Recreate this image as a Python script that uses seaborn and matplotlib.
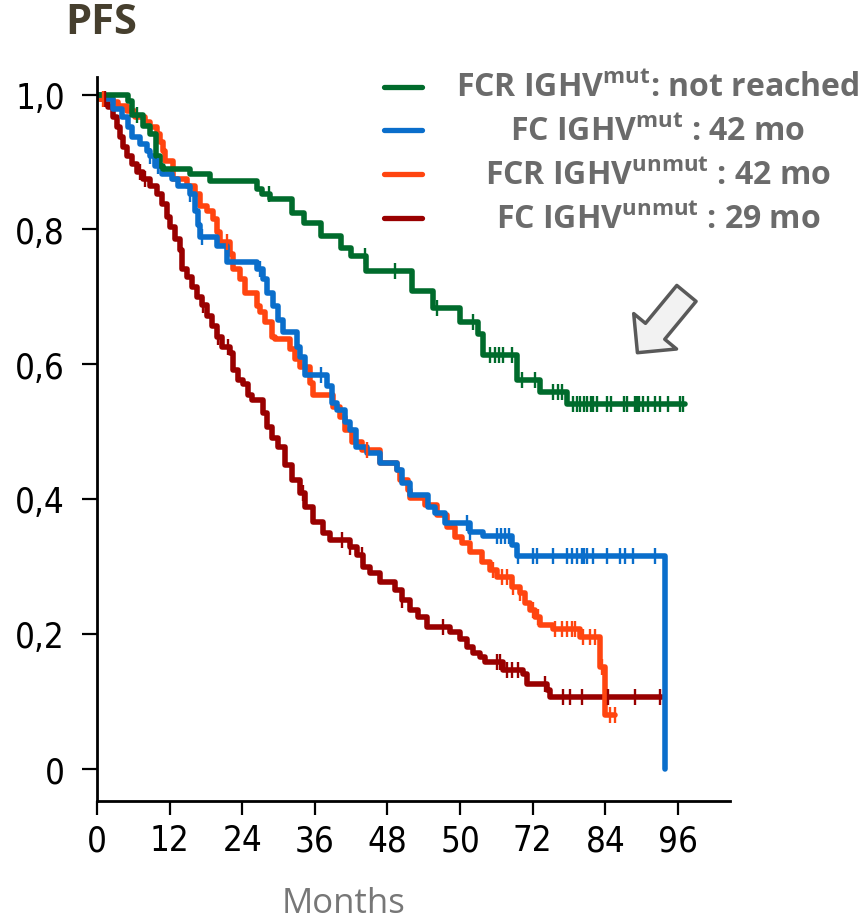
import numpy as np
import matplotlib
matplotlib.use("Agg")
import matplotlib.pyplot as plt
import seaborn as sns
from matplotlib.lines import Line2D
from matplotlib import font_manager

# Kaplan-Meier steps (months, survival after the drop)
t_fcr_mut = [0, 5.1, 5.8, 7.6, 8.8, 9.8, 10.4, 10.9, 15.4, 18.7, 26.4, 27.3, 28.6, 32.2, 34.2, 37.0,
             40.3, 42.0, 44.5, 52.1, 55.5, 60.0, 63.0, 63.8, 69.4, 73.2, 77.7, 97.2]
s_fcr_mut = [1.0, 0.990, 0.970, 0.953, 0.941, 0.909, 0.894, 0.889, 0.882, 0.871, 0.860, 0.852, 0.845, 0.825,
             0.810, 0.790, 0.773, 0.760, 0.738, 0.708, 0.683, 0.662, 0.645, 0.614, 0.577, 0.559, 0.541, 0.541]
c_fcr_mut = [6.6, 28.4, 44.3, 49.3, 56.2, 62.1, 65.0, 65.8, 66.4, 67.1, 68.6, 70.2, 72.4, 75.4, 76.2, 76.9,
             78.7, 79.3, 79.8, 80.5, 81.0, 81.7, 82.0, 82.6, 84.3, 85.0, 87.0, 87.6, 88.9, 89.3, 89.6, 90.2,
             91.1, 92.2, 93.1, 94.4, 96.4, 96.9]

t_fc_mut = [0, 1.3, 2.6, 4.1, 5.1, 5.8, 7.1, 8.3, 8.8, 9.6, 10.7, 12.4, 13.4, 15.4, 16.2, 16.7, 17.0, 19.8,
            21.5, 26.4, 27.4, 28.1, 29.1, 29.9, 30.7, 33.1, 33.6, 34.4, 38.0, 38.8, 39.7, 41.0, 41.8, 42.8,
            44.6, 46.8, 49.6, 50.4, 51.7, 54.7, 55.9, 57.5, 61.7, 63.8, 68.6, 69.4, 93.9]
s_fc_mut = [1.0, 0.993, 0.978, 0.967, 0.952, 0.937, 0.926, 0.916, 0.909, 0.894, 0.882, 0.874, 0.864, 0.852,
            0.827, 0.807, 0.788, 0.775, 0.751, 0.741, 0.726, 0.706, 0.686, 0.666, 0.647, 0.626, 0.611, 0.584,
            0.567, 0.543, 0.532, 0.514, 0.503, 0.477, 0.468, 0.454, 0.443, 0.424, 0.406, 0.388, 0.379, 0.364,
            0.351, 0.345, 0.332, 0.316, 0.0]
c_fc_mut = [8.8, 10.0, 15.4, 17.3, 27.0, 37.0, 61.2, 61.7, 66.1, 66.8, 67.4, 68.0, 69.6, 72.1, 72.7, 75.4,
            77.7, 78.5, 79.3, 80.2, 80.5, 81.0, 82.0, 84.3, 86.4, 87.3, 88.6, 92.2]

t_fcr_unmut = [0, 0.5, 2.6, 3.5, 5.0, 6.3, 7.9, 8.8, 9.9, 10.4, 10.9, 11.2, 12.6, 14.9, 16.2, 17.0, 18.2,
               19.2, 19.8, 20.3, 22.0, 22.5, 23.6, 24.5, 26.4, 26.9, 27.8, 28.9, 29.4, 31.9, 32.7, 33.6,
               35.2, 35.7, 39.0, 40.2, 41.0, 42.1, 43.8, 46.8, 49.6, 50.1, 51.4, 51.7, 54.2, 56.2, 57.9,
               59.2, 60.3, 61.7, 63.6, 65.0, 66.1, 68.6, 69.9, 70.7, 71.6, 72.4, 73.2, 75.4, 79.8, 83.1,
               84.0, 85.6]
s_fcr_unmut = [1.0, 0.993, 0.989, 0.983, 0.975, 0.967, 0.959, 0.952, 0.941, 0.929, 0.916, 0.901, 0.874,
               0.864, 0.852, 0.834, 0.827, 0.815, 0.796, 0.781, 0.763, 0.741, 0.726, 0.706, 0.686, 0.677,
               0.662, 0.641, 0.637, 0.622, 0.607, 0.596, 0.572, 0.555, 0.537, 0.522, 0.503, 0.485, 0.473,
               0.454, 0.443, 0.428, 0.413, 0.401, 0.391, 0.376, 0.358, 0.343, 0.335, 0.321, 0.306, 0.294,
               0.284, 0.269, 0.260, 0.245, 0.235, 0.225, 0.213, 0.207, 0.195, 0.150, 0.079, 0.079]
c_fcr_unmut = [1.0, 21.5, 44.6, 65.5, 67.0, 67.8, 68.8, 69.9, 72.1, 72.9, 75.7, 76.9, 77.7, 78.5, 79.0,
               80.3, 81.5, 82.3, 83.5, 84.8, 85.6]

t_fc_unmut = [0, 0.5, 1.8, 2.6, 3.3, 3.8, 4.3, 5.0, 5.8, 6.6, 7.6, 8.8, 9.9, 10.7, 11.6, 12.1, 12.9, 13.7,
              14.0, 14.9, 15.7, 16.5, 17.4, 18.2, 19.0, 19.8, 20.7, 22.0, 22.5, 23.3, 24.1, 25.0, 25.6,
              27.4, 28.1, 28.9, 29.9, 31.1, 32.2, 33.6, 34.4, 35.7, 37.4, 38.5, 41.8, 43.0, 44.0, 45.1,
              46.8, 49.3, 50.4, 51.7, 53.1, 54.5, 58.3, 60.0, 61.2, 62.1, 63.3, 64.1, 67.1, 70.4, 71.1,
              74.4, 74.9, 93.4]
s_fc_unmut = [1.0, 0.993, 0.981, 0.967, 0.952, 0.937, 0.922, 0.909, 0.897, 0.885, 0.874, 0.864, 0.852,
              0.837, 0.818, 0.803, 0.785, 0.770, 0.741, 0.730, 0.715, 0.700, 0.688, 0.671, 0.656, 0.641,
              0.625, 0.617, 0.592, 0.577, 0.570, 0.555, 0.547, 0.528, 0.507, 0.491, 0.477, 0.451, 0.428,
              0.409, 0.388, 0.366, 0.349, 0.339, 0.329, 0.317, 0.299, 0.290, 0.277, 0.265, 0.250, 0.235,
              0.225, 0.210, 0.202, 0.193, 0.180, 0.172, 0.165, 0.158, 0.146, 0.141, 0.126, 0.116, 0.106,
              0.106]
c_fc_unmut = [1.3, 7.1, 8.0, 17.5, 20.0, 21.6, 34.0, 40.5, 41.8, 43.8, 50.4, 57.2, 66.1, 66.6, 67.8, 68.6,
              69.6, 74.0, 77.0, 78.2, 80.2, 84.5, 88.9, 93.1]

legend_labels = [r"FCR IGHV$^{\mathrm{mut}}$: not reached",
                 r"FC IGHV$^{\mathrm{mut}}$ : 42 mo",
                 r"FCR IGHV$^{\mathrm{unmut}}$ : 42 mo",
                 r"FC IGHV$^{\mathrm{unmut}}$ : 29 mo"]
colors = ["#006b2c", "#0a6ecb", "#ff4510", "#990000"]

x_ticks = [0, 12, 24, 36, 48, 60, 72, 84, 96]
x_tick_labels = ["0", "12", "24", "36", "48", "50", "72", "84", "96"]
y_ticks = [0, 0.2, 0.4, 0.6, 0.8, 1.0]
y_tick_labels = ["0", "0,2", "0,4", "0,6", "0,8", "1,0"]

sns.set_style("ticks")
plt.rcParams["font.family"] = ["Open Sans", "DejaVu Sans"]
plt.rcParams["mathtext.fontset"] = "custom"
plt.rcParams["mathtext.rm"] = "Open Sans:bold"

# narrow face for the tick numbers, if one is around
installed = {(f.name, f.stretch) for f in font_manager.fontManager.ttflist}
tick_font = dict(family=["Open Sans"], fontsize=25)
if any(n == "Liberation Sans Narrow" for n, _ in installed):
    tick_font = dict(family=["Liberation Sans Narrow"], fontsize=26)
elif ("DejaVu Sans", "condensed") in installed or ("DejaVu Sans", 500) in installed:
    tick_font = dict(family=["DejaVu Sans"], fontstretch="condensed", fontsize=25)

fig = plt.figure(figsize=(8.63, 9.2), dpi=100)
ax = fig.add_axes([0.1124, 0.1283, 0.7335, 0.7869])

curves = [
    (t_fc_unmut, s_fc_unmut, c_fc_unmut, colors[3]),
    (t_fcr_unmut, s_fcr_unmut, c_fcr_unmut, colors[2]),
    (t_fc_mut, s_fc_mut, c_fc_mut, colors[1]),
    (t_fcr_mut, s_fcr_mut, c_fcr_mut, colors[0]),
]
for t, s, cens, col in curves:
    sns.lineplot(x=t, y=s, drawstyle="steps-post", color=col, lw=4.0,
                 estimator=None, sort=False, ax=ax)
    t_arr = np.asarray(t)
    s_arr = np.asarray(s)
    idx = np.searchsorted(t_arr, cens, side="right") - 1
    sns.scatterplot(x=cens, y=s_arr[idx], marker="|", s=130, linewidth=1.7,
                    color=col, ax=ax, zorder=3)

ax.set_xlim(0, 104.6)
ax.set_ylim(-0.048, 1.026)
ax.set_xticks(x_ticks)
ax.set_xticklabels(x_tick_labels, **tick_font)
ax.set_yticks(y_ticks)
ax.set_yticklabels(y_tick_labels, **tick_font)
ax.tick_params(axis="x", length=10, width=1.6, pad=6, colors="black")
ax.tick_params(axis="y", length=11, width=1.6, pad=12, colors="black")
for side in ["top", "right"]:
    ax.spines[side].set_visible(False)
for side in ["left", "bottom"]:
    ax.spines[side].set_linewidth(2.0)
    ax.spines[side].set_color("black")
ax.set_xlabel("")
ax.set_ylabel("")

# hollow arrow pointing at the FCR IGHVmut plateau
ax.annotate("", xy=(89.3, 0.617), xytext=(97.4, 0.705),
            arrowprops=dict(arrowstyle="simple,head_length=1.0,head_width=2.0,tail_width=0.9",
                            mutation_scale=20, fc="#f2f2f2", ec="#595959", lw=2.5,
                            shrinkA=0, shrinkB=0),
            annotation_clip=False)

# legend drawn by hand
row_y = [88, 131, 175, 219]
for lab, col, y in zip(legend_labels, colors, row_y):
    yf = 1 - y / 920
    fig.add_artist(Line2D([384 / 863, 422 / 863], [yf, yf], color=col, lw=3.8))
    fig.text(658 / 863, yf, lab, ha="center", va="center", fontsize=23,
             fontweight="bold", color="#6b6b6b")

fig.text(101 / 863, 1 - 24 / 920, "PFS", ha="center", va="center", fontsize=30,
         fontweight="bold", color="#463f2e")
fig.text(343 / 863, 1 - 904 / 920, "Months", ha="center", va="center", fontsize=25,
         color="#777777")

fig.savefig("out.png", dpi=100)
